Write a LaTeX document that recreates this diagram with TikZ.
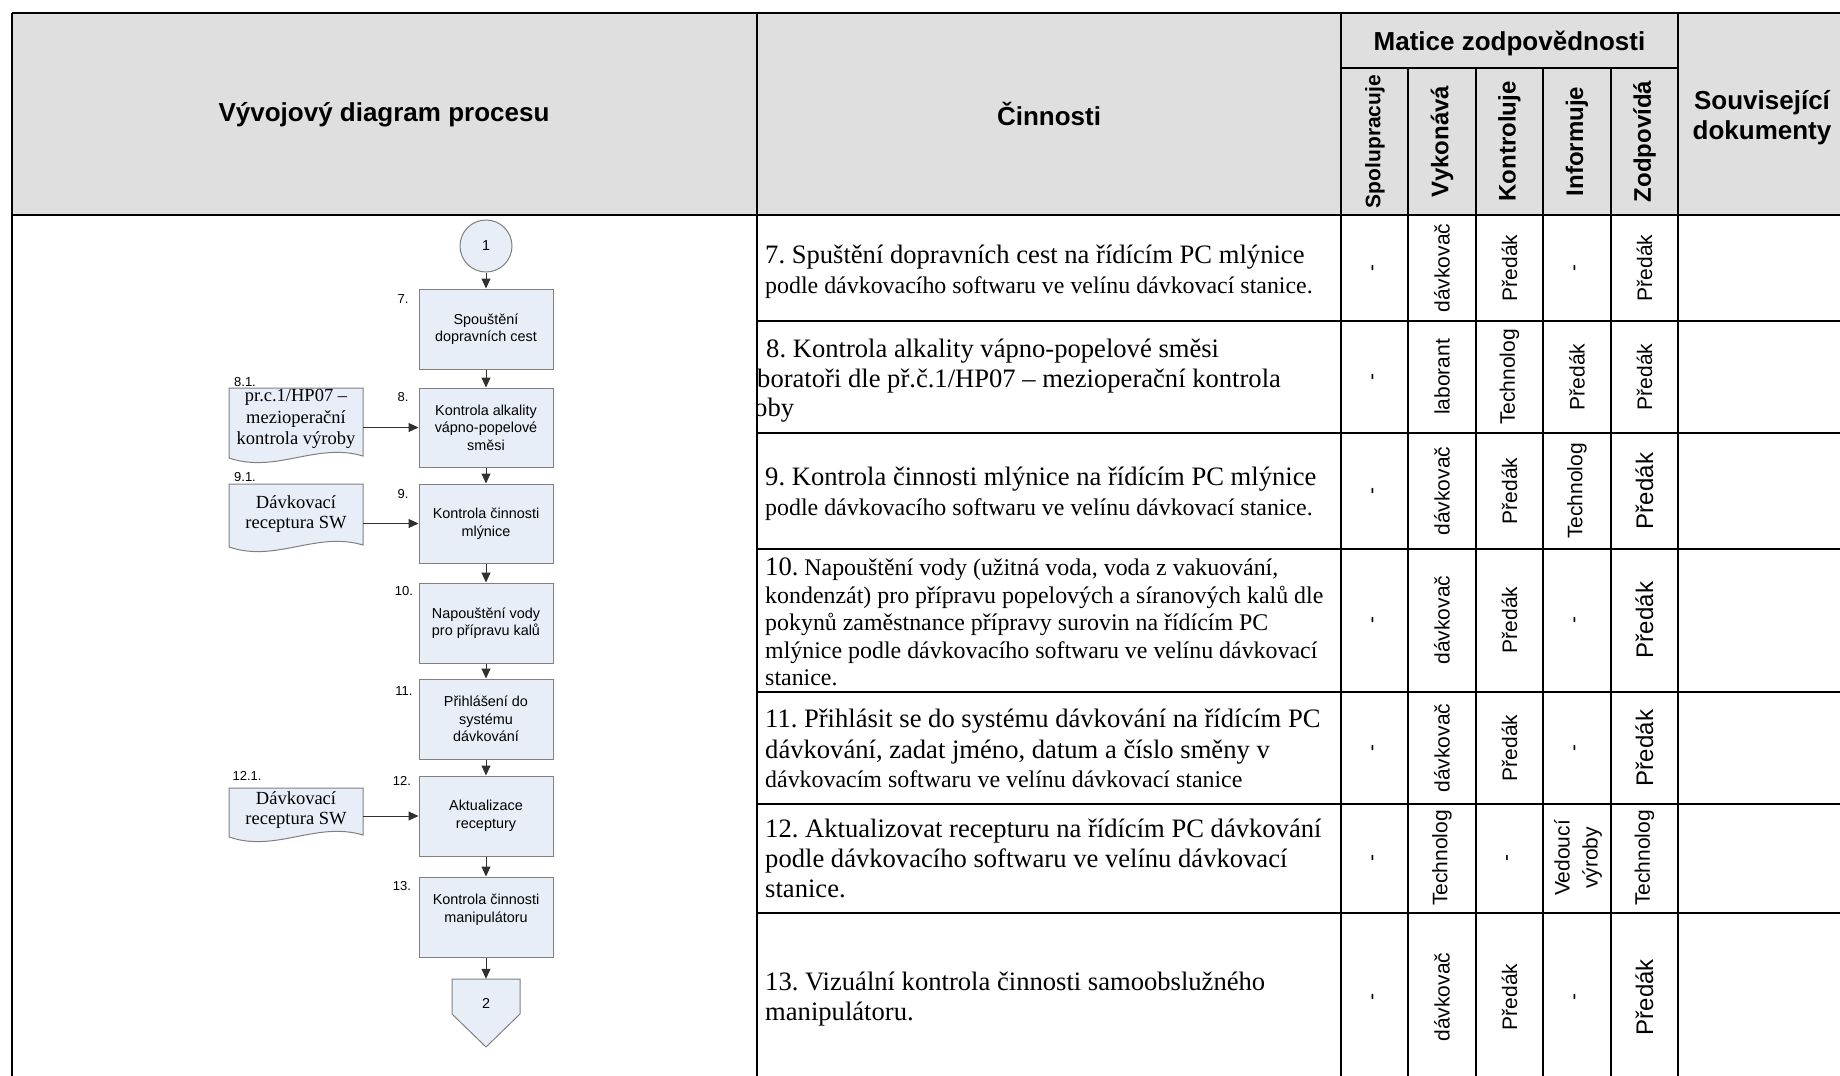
\documentclass[tikz,border=0pt]{standalone}
\usepackage{fontspec}
\setmainfont{Liberation Serif}
\setsansfont{Liberation Sans}
\usetikzlibrary{arrows.meta,calc}
\definecolor{hdrgray}{HTML}{DFDFDF}
\definecolor{boxfill}{HTML}{E8EEF8}
\definecolor{boxline}{HTML}{808080}
\definecolor{conn}{HTML}{303030}
\frenchspacing

\tikzset{
  gridline/.style={line width=2.2pt, black},
  hdr/.style={font=\sffamily\bfseries\fontsize{26}{30}\selectfont, align=center, inner sep=0},
  vhdr/.style={rotate=90, font=\sffamily\bfseries\fontsize{24}{28}\selectfont, inner sep=0},
  mcell/.style={rotate=90, font=\sffamily\fontsize{21}{28}\selectfont, inner sep=0, align=center},
  mbig/.style={mcell, font=\sffamily\fontsize{24}{28}\selectfont},
  txbig/.style={anchor=base west, inner sep=0, font=\fontsize{26.6}{31}\selectfont},
  txsmall/.style={anchor=base west, inner sep=0, font=\fontsize{23.9}{27}\selectfont},
  procbox/.style={draw=boxline, fill=boxfill, line width=1pt, minimum width=134pt,
    minimum height=80pt, inner sep=2pt, align=center,
    font=\sffamily\fontsize{14.4}{17.5}\selectfont},
  conncircle/.style={circle, draw=boxline, fill=boxfill, line width=1pt,
    minimum size=52pt, inner sep=0, font=\sffamily\fontsize{14.4}{17}\selectfont},
  doctext/.style={minimum width=134pt, inner sep=0, align=center,
    font=\fontsize{18.5}{20.5}\selectfont},
  shapeline/.style={draw=boxline, fill=boxfill, line width=1pt},
  steplbl/.style={inner sep=0, font=\sffamily\fontsize{13}{15}\selectfont},
  arr/.style={draw=conn, line width=1pt, -{Triangle[length=10pt,width=9pt]}},
}

% document symbol: flat top, wavy bottom (left x, top y, right x, bottom y)
\newcommand\docshape[4]{%
  \filldraw[shapeline] (#1,#2) -- (#3,#2) -- (#3,#4-2)
    .. controls (#3-47,#4-16) and (#1+47,#4+16) .. (#1,#4) -- cycle;}

\begin{document}
\begin{tikzpicture}[x=1pt,y=-1pt]
\useasboundingbox (0,0) rectangle (1840,1076);
\clip (0,0) rectangle (1840,1076);

% ---------- header band ----------
\fill[hdrgray] (11.7,13) rectangle (1840,215);

\node[hdr] (hflow) at (384,115) {Vývojový diagram procesu};
\node[hdr] (hact) at (1049,114) {Činnosti};
\node[hdr] (hmat) at (1509.5,43) {Matice zodpovědnosti};
\node[hdr] (hdoc) at (1762,118) {Související\\dokumenty};

\node[vhdr, font=\sffamily\bfseries\fontsize{21}{26}\selectfont] (hspo) at (1375,141.5) {Spolupracuje};
\node[vhdr] (hvyk) at (1442,141.5) {Vykonává};
\node[vhdr] (hkon) at (1509.5,141.5) {Kontroluje};
\node[vhdr] (hinf) at (1577,141.5) {Informuje};
\node[vhdr] (hzod) at (1644.5,141.5) {Zodpovídá};

% ---------- table rules ----------
\draw[gridline] (11.7,13) -- (1840,13);
\draw[gridline] (11.7,13) -- (11.7,1076);
\draw[gridline] (757,13) -- (757,1076);
\draw[gridline] (1341,13) -- (1341,1076);
\draw[gridline] (1678,13) -- (1678,1076);
\draw[gridline] (1341,68) -- (1678,68);
\foreach \cx in {1408,1476,1543,1611} \draw[gridline] (\cx,68) -- (\cx,1076);
\draw[gridline, line width=2.8pt] (11.7,215) -- (1840,215);
\foreach \ry in {321,433,549,692,804,913} \draw[gridline] (757,\ry) -- (1840,\ry);

% ---------- activity descriptions ----------
\node[txbig] (t7a) at (765,263) {7. Spuštění dopravních cest na řídícím PC mlýnice};
\node[txsmall] (t7b) at (765,293) {podle dávkovacího softwaru ve velínu dávkovací stanice.};

\begin{scope}
  \clip (758,322) rectangle (1340,432);
  \node[txbig] (t8a) at (766,357) {8. Kontrola alkality vápno-popelové směsi};
  \node[txbig] (t8b) at (757,387) {boratoři dle př.č.1/HP07 – mezioperační kontrola};
  \node[txbig] (t8c) at (754,416) {oby};
\end{scope}

\node[txbig] (t9a) at (765,485) {9. Kontrola činnosti mlýnice na řídícím PC mlýnice};
\node[txsmall] (t9b) at (765,515) {podle dávkovacího softwaru ve velínu dávkovací stanice.};

\node[txsmall] (t10a) at (765,575) {{\fontsize{26.6}{31}\selectfont 10.} Napouštění vody (užitná voda, voda z vakuování,};
\node[txsmall] (t10b) at (765,603) {kondenzát) pro přípravu popelových a síranových kalů dle};
\node[txsmall] (t10c) at (765,630) {pokynů zaměstnance přípravy surovin na řídícím PC};
\node[txsmall] (t10d) at (765,658) {mlýnice podle dávkovacího softwaru ve velínu dávkovací};
\node[txsmall] (t10e) at (765,685) {stanice.};

\node[txbig] (t11a) at (765,727) {11. Přihlásit se do systému dávkování na řídícím PC};
\node[txbig] (t11b) at (765,758) {dávkování, zadat jméno, datum a číslo směny v};
\node[txsmall] (t11c) at (765,787) {dávkovacím softwaru ve velínu dávkovací stanice};

\node[txbig] (t12a) at (765,837) {12. Aktualizovat recepturu na řídícím PC dávkování};
\node[txbig] (t12b) at (765,867) {podle dávkovacího softwaru ve velínu dávkovací};
\node[txbig] (t12c) at (765,897) {stanice.};

\node[txbig] (t13a) at (765,990) {13. Vizuální kontrola činnosti samoobslužného};
\node[txbig] (t13b) at (765,1020) {manipulátoru.};

% ---------- responsibility matrix ----------
% row 7
\node[mcell] (m7a) at (1375,268) {-};
\node[mcell] (m7b) at (1442,268) {dávkovač};
\node[mcell] (m7c) at (1509.5,268) {Předák};
\node[mcell] (m7d) at (1577,268) {-};
\node[mcell] (m7e) at (1644.5,268) {Předák};
% row 8
\node[mcell] (m8a) at (1375,377) {-};
\node[mcell] (m8b) at (1442,377) {laborant};
\node[mcell] (m8c) at (1509.5,377) {Technolog};
\node[mcell] (m8d) at (1577,377) {Předák};
\node[mcell] (m8e) at (1644.5,377) {Předák};
% row 9
\node[mcell] (m9a) at (1375,491) {-};
\node[mcell] (m9b) at (1442,491) {dávkovač};
\node[mcell] (m9c) at (1509.5,491) {Předák};
\node[mcell] (m9d) at (1577,491) {Technolog};
\node[mbig] (m9e) at (1644.5,491) {Předák};
% row 10
\node[mcell] (m10a) at (1375,620) {-};
\node[mcell] (m10b) at (1442,620) {dávkovač};
\node[mcell] (m10c) at (1509.5,620) {Předák};
\node[mcell] (m10d) at (1577,620) {-};
\node[mbig] (m10e) at (1644.5,620) {Předák};
% row 11
\node[mcell] (m11a) at (1375,748) {-};
\node[mcell] (m11b) at (1442,748) {dávkovač};
\node[mcell] (m11c) at (1509.5,748) {Předák};
\node[mcell] (m11d) at (1577,748) {-};
\node[mbig] (m11e) at (1644.5,748) {Předák};
% row 12
\node[mcell] (m12a) at (1375,858) {-};
\node[mcell] (m12b) at (1442,858) {Technolog};
\node[mcell] (m12c) at (1509.5,858) {-};
\node[mcell] (m12d) at (1578,858) {Vedoucí\\výroby};
\node[mcell] (m12e) at (1644.5,858) {Technolog};
% row 13
\node[mcell] (m13a) at (1375,997) {-};
\node[mcell] (m13b) at (1442,997) {dávkovač};
\node[mcell] (m13c) at (1509.5,997) {Předák};
\node[mcell] (m13d) at (1577,997) {-};
\node[mbig] (m13e) at (1644.5,997) {Předák};

% ---------- process flowchart ----------
\node[conncircle] (c1) at (486,246) {1};

\node[procbox] (b7) at (486,329) {Spouštění\\dopravních cest};
\node[procbox, minimum height=79pt] (b8) at (486,427.5) {Kontrola alkality\\vápno-popelové\\směsi};
\node[procbox, minimum height=79pt] (b9) at (486,523.5) {Kontrola činnosti\\mlýnice};
\node[procbox] (b10) at (486,623) {Napouštění vody\\pro přípravu kalů};
\node[procbox] (b11) at (486,719) {Přihlášení do\\systému\\dávkování};
\node[procbox] (b12) at (486,816) {Aktualizace\\receptury};
\node[procbox] (b13) at (486,917) {Kontrola činnosti\\manipulátoru\\ \mbox{}};

% off-page connector
\filldraw[shapeline] (452,979) -- (520,979) -- (520,1014) -- (486,1047) -- (452,1014) -- cycle;
\node[inner sep=0, minimum width=68pt, minimum height=48pt,
      font=\sffamily\fontsize{14.4}{17}\selectfont] (off2) at (486,1003) {2};

% document symbols
\docshape{229}{388}{363}{458}
\docshape{229}{484}{363}{547}
\docshape{229}{788}{363}{837}
\node[doctext, font=\fontsize{18.5}{21.5}\selectfont] (d81) at (296,419) {pr.c.1/HP07 –\\mezioperační\\kontrola výroby};
\node[doctext] (d91) at (296,514) {Dávkovací\\receptura SW};
\node[doctext] (d121) at (296,810) {Dávkovací\\receptura SW};

% step numbers
\node[steplbl] (l7) at (403,299) {7.};
\node[steplbl] (l8) at (403,397) {8.};
\node[steplbl] (l9) at (403,494) {9.};
\node[steplbl] (l10) at (404,591) {10.};
\node[steplbl] (l11) at (404,691) {11.};
\node[steplbl] (l12) at (402,781) {12.};
\node[steplbl] (l13) at (402,886) {13.};
\node[steplbl] (l81) at (245,382) {8.1.};
\node[steplbl] (l91) at (245,477) {9.1.};
\node[steplbl] (l121) at (247,776) {12.1.};

% connectors
\draw[arr] (c1.south) -- (b7.north);
\draw[arr] (b7.south) -- (b8.north);
\draw[arr] (b8.south) -- (b9.north);
\draw[arr] (b9.south) -- (b10.north);
\draw[arr] (b10.south) -- (b11.north);
\draw[arr] (b11.south) -- (b12.north);
\draw[arr] (b12.south) -- (b13.north);
\draw[arr] (b13.south) -- (off2.north);
\draw[arr] (d81.east |- b8.west) -- (b8.west);
\draw[arr] (d91.east |- b9.west) -- (b9.west);
\draw[arr] (d121.east |- b12.west) -- (b12.west);
\end{tikzpicture}
\end{document}
